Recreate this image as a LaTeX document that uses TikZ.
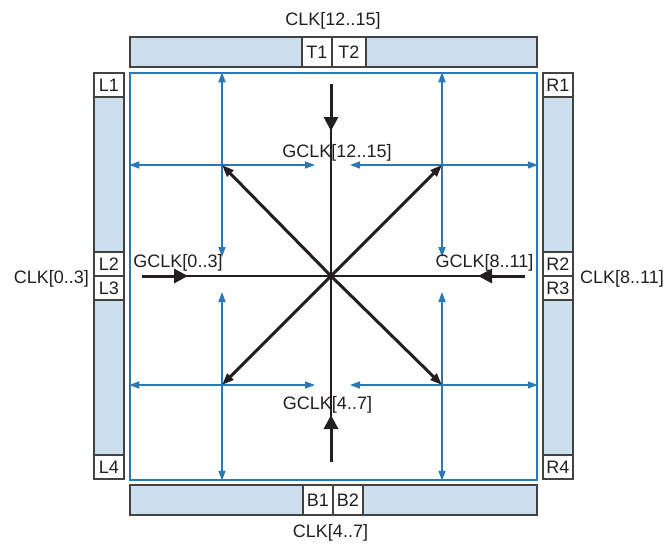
\documentclass[tikz,border=0pt]{standalone}
\usepackage{fontspec}
\setmainfont{Liberation Sans}
\usetikzlibrary{arrows.meta}
\definecolor{barfill}{HTML}{CCDFEC}
\definecolor{lineblue}{HTML}{2A78B6}
\definecolor{ink}{HTML}{231F20}
\begin{document}
\begin{tikzpicture}[x=1pt,y=-1pt,
  font=\fontsize{18}{20}\selectfont,
  bar/.style={draw=ink!85, line width=1.4pt, fill=barfill, inner sep=0pt},
  tab/.style={draw=ink!85, line width=1.4pt, fill=white, inner sep=0pt, text=ink},
  lbl/.style={anchor=base, inner sep=0pt, text=ink},
  bluearrow/.style={draw=lineblue, line width=1.4pt, -{Triangle[length=10pt,width=7pt]}},
  feed/.style={draw=ink, line width=3pt, -{Triangle[length=14pt,width=14pt]}},
  diag/.style={draw=ink, line width=3pt, -{Triangle[length=12pt,width=8.5pt]}},
  thinline/.style={draw=ink, line width=1.2pt}]
\useasboundingbox (0,0) rectangle (665,544);

% core region
\node[draw=lineblue, line width=1.5pt, fill=white, minimum width=407pt, minimum height=407pt, inner sep=0pt] (core) at (333.5,276.5) {};

% bars
\node[bar, minimum width=407pt, minimum height=30pt] (topbar) at (333.5,52) {};
\node[bar, minimum width=407pt, minimum height=30pt] (botbar) at (333.5,500) {};
\node[bar, minimum width=30pt, minimum height=406pt] (leftbar) at (109,276) {};
\node[bar, minimum width=30pt, minimum height=406pt] (rightbar) at (558,276) {};

% tabs
\node[tab, minimum width=30pt, minimum height=30pt] (T1) at (317,52) {T1};
\node[tab, minimum width=34pt, minimum height=30pt] (T2) at (349,52) {T2};
\node[tab, minimum width=30pt, minimum height=30pt] (B1) at (318,500) {B1};
\node[tab, minimum width=30pt, minimum height=30pt] (B2) at (348,500) {B2};
\node[tab, minimum width=30pt, minimum height=24pt] (L1) at (109,85) {L1};
\node[tab, minimum width=30pt, minimum height=24pt] (L2) at (109,264) {L2};
\node[tab, minimum width=30pt, minimum height=24pt] (L3) at (109,288) {L3};
\node[tab, minimum width=30pt, minimum height=24pt] (L4) at (109,467) {L4};
\node[tab, minimum width=30pt, minimum height=24pt] (R1) at (558,85) {R1};
\node[tab, minimum width=30pt, minimum height=24pt] (R2) at (558,264) {R2};
\node[tab, minimum width=30pt, minimum height=24pt] (R3) at (558,288) {R3};
\node[tab, minimum width=30pt, minimum height=24pt] (R4) at (558,467) {R4};

% coordinates
\coordinate (c) at (331,276);
\coordinate (ul) at (222,165);
\coordinate (ur) at (442,165);
\coordinate (ll) at (222,385);
\coordinate (lr) at (442,385);
\coordinate (ulS) at (222,257);
\coordinate (ulE) at (315,165);
\coordinate (urS) at (442,257);
\coordinate (urW) at (350,165);
\coordinate (llN) at (222,292);
\coordinate (llE) at (315,385);
\coordinate (lrN) at (442,292);
\coordinate (lrW) at (350,385);
\coordinate (inT) at (331,84);
\coordinate (tipT) at (331,131);
\coordinate (inB) at (331,462);
\coordinate (tipB) at (331,415);
\coordinate (inL) at (142,276);
\coordinate (tipL) at (188,276);
\coordinate (inR) at (525,276);
\coordinate (tipR) at (478,276);

% blue distribution arrows
\draw[bluearrow] (ul) -- (core.north -| ul);
\draw[bluearrow] (ul) -- (ulS);
\draw[bluearrow] (ul) -- (core.west |- ul);
\draw[bluearrow] (ul) -- (ulE);
\draw[bluearrow] (ur) -- (core.north -| ur);
\draw[bluearrow] (ur) -- (urS);
\draw[bluearrow] (ur) -- (core.east |- ur);
\draw[bluearrow] (ur) -- (urW);
\draw[bluearrow] (ll) -- (core.south -| ll);
\draw[bluearrow] (ll) -- (llN);
\draw[bluearrow] (ll) -- (core.west |- ll);
\draw[bluearrow] (ll) -- (llE);
\draw[bluearrow] (lr) -- (core.south -| lr);
\draw[bluearrow] (lr) -- (lrN);
\draw[bluearrow] (lr) -- (core.east |- lr);
\draw[bluearrow] (lr) -- (lrW);

% thin black cross
\draw[thinline] (inT) -- (inB);
\draw[thinline] (inL) -- (inR);

% feeds
\draw[feed] (inT) -- (tipT);
\draw[feed] (inB) -- (tipB);
\draw[feed] (inL) -- (tipL);
\draw[feed] (inR) -- (tipR);

% diagonals
\draw[diag] (c) -- (ul);
\draw[diag] (c) -- (ur);
\draw[diag] (c) -- (ll);
\draw[diag] (c) -- (lr);

% labels
\node[lbl] (clkT) at (333,25) {CLK[12..15]};
\node[lbl] (clkB) at (330.5,537) {CLK[4..7]};
\node[lbl, anchor=base east] (clkL) at (89,283) {CLK[0..3]};
\node[lbl, anchor=base west] (clkR) at (580,283) {CLK[8..11]};
\node[lbl] (gT) at (337,157) {GCLK[12..15]};
\node[lbl] (gL) at (178,267) {GCLK[0..3]};
\node[lbl] (gR) at (484.5,267) {GCLK[8..11]};
\node[lbl] (gB) at (327.5,409) {GCLK[4..7]};
\end{tikzpicture}
\end{document}
